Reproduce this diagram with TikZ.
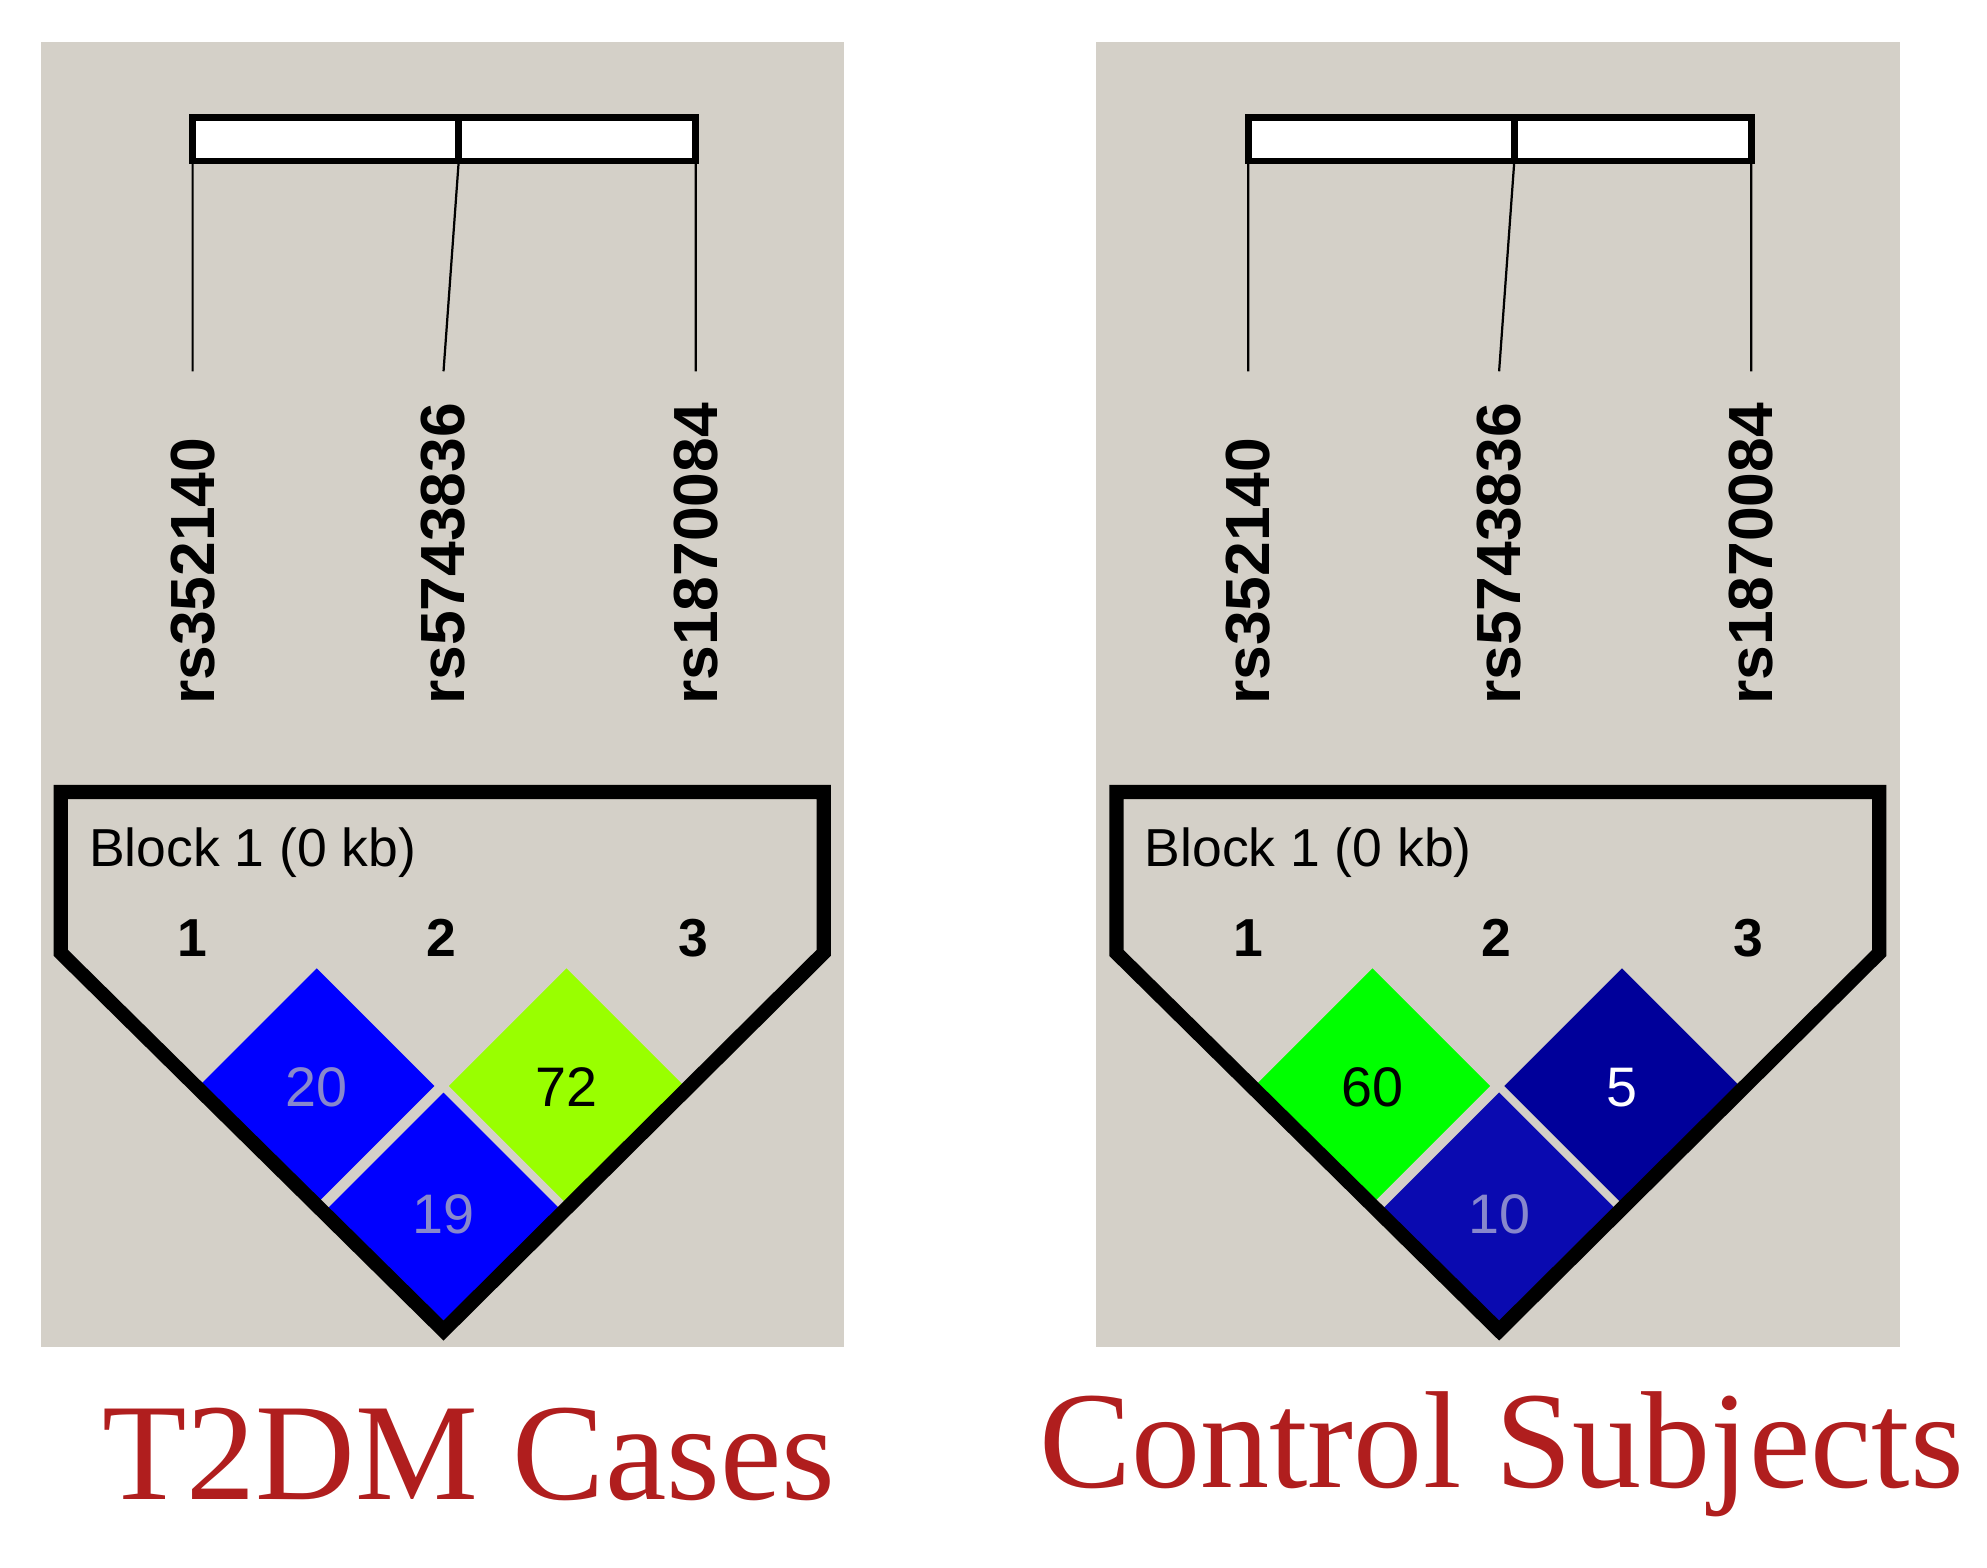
\documentclass[tikz,border=0pt]{standalone}
\usepackage{fontspec}
\setmainfont{Liberation Serif}
\setsansfont{Liberation Sans}
\begin{document}
\begin{tikzpicture}[x=0.01cm,y=-0.01cm,
  snp/.style={font=\sffamily\bfseries\fontsize{14}{14}\selectfont,rotate=90,anchor=west,inner sep=0},
  num/.style={font=\sffamily\bfseries\fontsize{12}{12}\selectfont},
  cell/.style={draw=panelgray,line width=0.8pt},
  val/.style={font=\sffamily\fontsize{12.5}{12.5}\selectfont},
  captxt/.style={font=\fontsize{31}{31}\selectfont,text=capred}]
\definecolor{panelgray}{HTML}{D4D0C8}
\definecolor{capred}{HTML}{B01E1E}
\definecolor{ygreen}{HTML}{99FF00}
\definecolor{dblue}{HTML}{0A0AB0}
\definecolor{ddblue}{HTML}{00009A}
\definecolor{pale}{HTML}{8888CC}
\useasboundingbox (0,0) rectangle (1568,1237);
\fill[white] (0,0) rectangle (1568,1237);
\newcommand{\ldpanel}[8]{%
\begin{scope}[xshift=#1*0.01cm]
\fill[panelgray] (32,33) rectangle (666,1063);
\draw[fill=white,line width=1.5pt] (152,93) rectangle (549,127);
\draw[line width=1.5pt] (362,93) -- (362,127);
\draw[line width=0.5pt] (152,127) -- (152,293) (362,127) -- (350,293) (549,127) -- (549,293);
\node[snp] at (152,557) {rs352140};
\node[snp] at (350,557) {rs5743836};
\node[snp] at (549,557) {rs1870084};
\node[font=\sffamily\fontsize{12}{12}\selectfont,anchor=west] at (58,673) {Block 1 (0 kb)};
\node[num] at (152,740) {1};
\node[num] at (348,740) {2};
\node[num] at (547,740) {3};
\draw[cell,fill=#2] (250,762) -- (345,857) -- (250,952) -- (155,857) -- cycle;
\draw[cell,fill=#4] (447,762) -- (542,857) -- (447,952) -- (352,857) -- cycle;
\draw[cell,fill=#6] (350,860) -- (445,955) -- (350,1050) -- (255,955) -- cycle;
\node[val,text=#8] at (250,858) {#3};
\node[val,text=#7] at (447,858) {#5};
\end{scope}}
\ldpanel{0}{blue}{20}{ygreen}{72}{blue}{black}{pale}
\node[val,text=pale] at (350,958) {19};
\draw[line width=3.2pt,line join=miter] (48,625) -- (650,625) -- (650,752) -- (350,1050) -- (48,752) -- cycle;
\ldpanel{833}{green}{60}{ddblue}{5}{dblue}{white}{black}
\node[val,text=pale] at (1183,958) {10};
\draw[line width=3.2pt,line join=miter] (881,625) -- (1483,625) -- (1483,752) -- (1183,1050) -- (881,752) -- cycle;
\node[captxt] (c1) at (370,1148) {T2DM Cases};
\node[captxt] (c2) at (1185,1148) {Control Subjects};
\end{tikzpicture}
\end{document}
